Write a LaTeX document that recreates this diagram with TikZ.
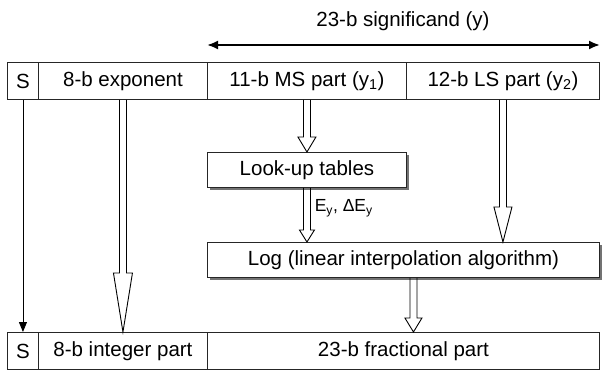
\documentclass[tikz,border=0pt]{standalone}
\usepackage{fontspec}
\setmainfont{Liberation Sans}
\usetikzlibrary{calc,shadows,arrows.meta}

\tikzset{every picture/.style={line width=0.9pt}}
\tikzset{
  cell/.style={draw=black!85, minimum height=37pt, inner sep=0pt, anchor=north west},
  unit/.style={cell, minimum height=35pt, fill=white,
    drop shadow={shadow xshift=2.5pt, shadow yshift=-2.5pt, fill=black!55, opacity=1}},
  fat/.style 2 args={to path={let \p1=(\tikztostart), \p2=(\tikztotarget) in
    (\x1-3.5pt,\y1) -- (\x1-3.5pt,\y2+#2) -- (\x1-#1,\y2+#2) -- (\x1,\y2)
    -- (\x1+#1,\y2+#2) -- (\x1+3.5pt,\y2+#2) -- (\x1+3.5pt,\y1)}},
}

\begin{document}
\begin{tikzpicture}[x=1pt,y=-1pt,font=\fontsize{20.5}{23}\selectfont]
  \useasboundingbox (0,0) rectangle (602,371);

  %span of the significand
  \node (title) at (403,21) {23-b significand (y)};
  \coordinate (spanl) at (207,45);
  \coordinate (spanr) at (600,45);
  \draw [line width=2pt, {Latex[length=11pt,width=9pt]}-{Latex[length=11pt,width=9pt]}] (spanl) -- (spanr);

  %input word
  \node [cell, minimum width=31pt] (sin) at (7,62) {S};
  \node [cell, minimum width=169pt] (exp) at (38,62) {8-b exponent};
  \node [cell, minimum width=199pt] (ms) at (207,62) {11-b MS part (y\textsubscript{1})};
  \node [cell, minimum width=193pt] (ls) at (406,62) {12-b LS part (y\textsubscript{2})};

  %processing units
  \node [unit, minimum width=199pt] (lut) at (207,152) {Look-up tables};
  \node [unit, minimum width=392pt] (log) at (207,242) {Log (linear interpolation algorithm)};
  \node [anchor=west, font=\fontsize{17.5}{20}\selectfont] (ey) at (311,208) {E\textsubscript{y}, ΔE\textsubscript{y}};

  %output word
  \node [cell, minimum width=31pt] (sout) at (7,332) {S};
  \node [cell, minimum width=169pt] (int) at (38,332) {8-b integer part};
  \node [cell, minimum width=392pt] (frac) at (207,332) {23-b fractional part};

  %data flow
  \draw [-{Triangle[length=10pt,width=8pt]}] (sin) -- (sout);
  \draw [fat={9.5pt}{59pt}] (exp.south) to (int.north);
  \draw [fat={9pt}{15pt}] (ms.south) to (lut.north);
  \draw [fat={7.5pt}{12pt}] (lut.south) to (log.north);
  \draw [fat={9pt}{35pt}] (ls.south) to (ls.south |- log.north);
  \draw [fat={8.5pt}{14pt}] ($(log.south)+(10,0)$) to ($(frac.north)+(10,0)$);
\end{tikzpicture}
\end{document}
